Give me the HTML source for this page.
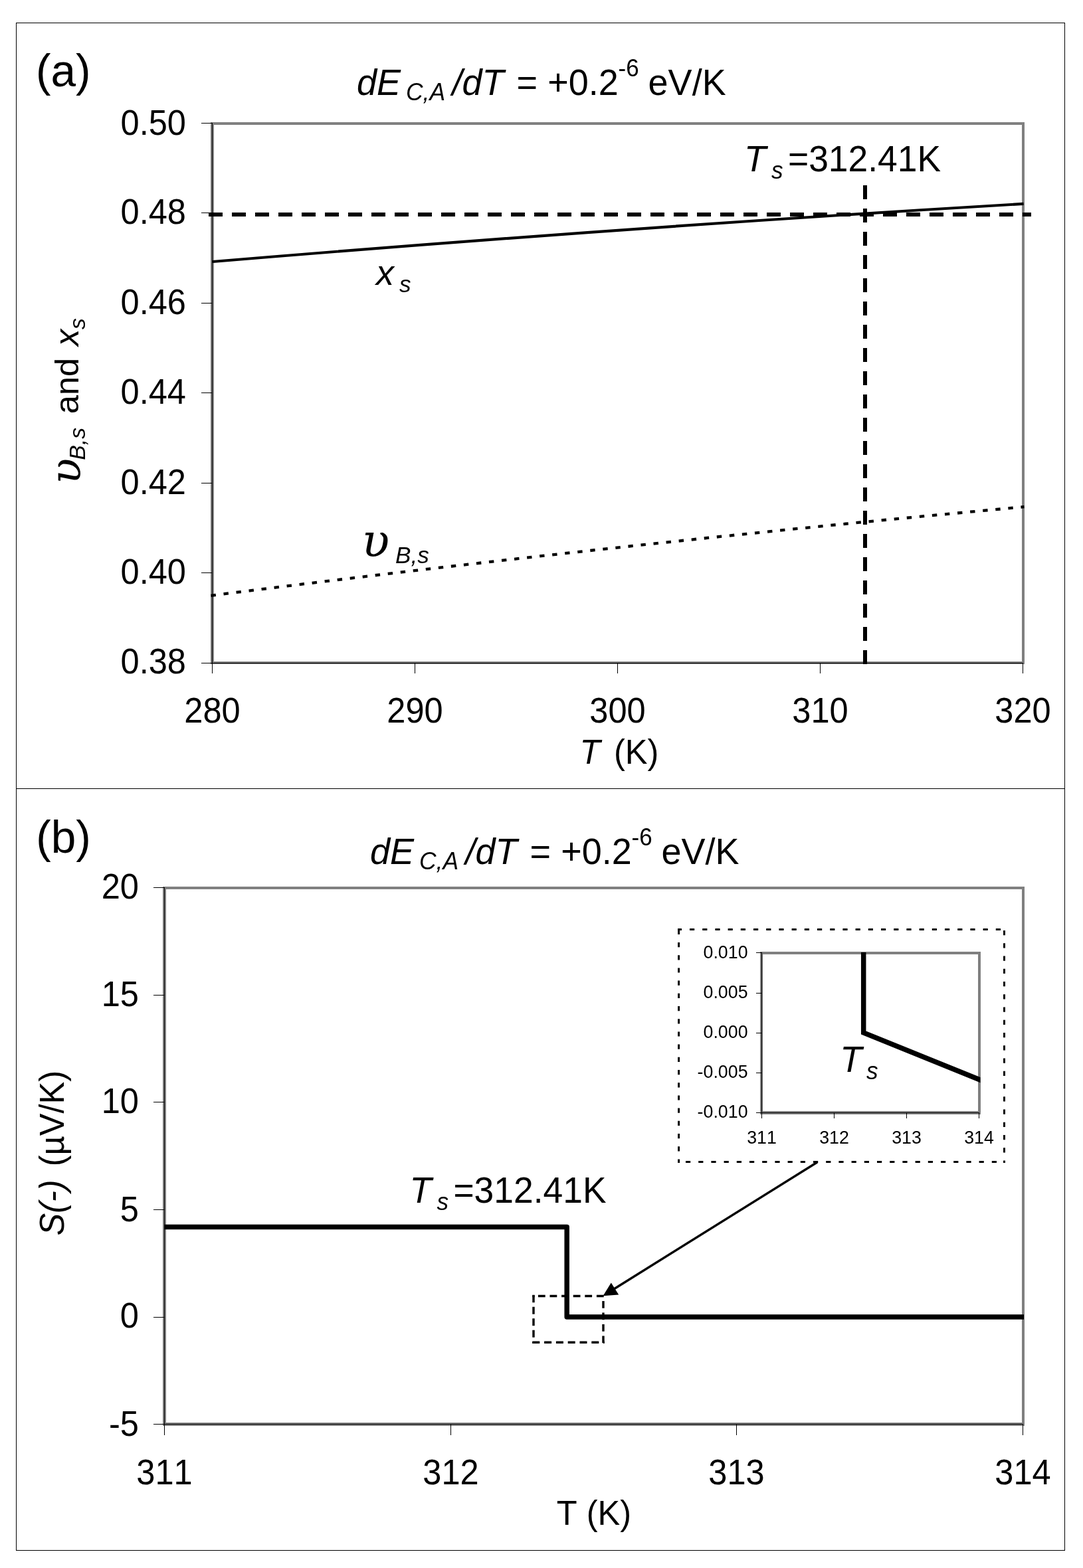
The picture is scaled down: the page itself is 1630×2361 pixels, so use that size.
<!DOCTYPE html>
<html lang="en"><head><meta charset="utf-8"><title>Figure: surface composition and thermopower versus temperature</title>
<style>
html,body{margin:0;padding:0;background:#fff}
body{width:1630px;height:2361px;overflow:hidden}
svg{display:block}
text{font-family:"Liberation Sans", "DejaVu Sans", sans-serif;fill:#000;white-space:pre;font-kerning:none}
.i{font-style:italic}
.u{font-family:"DejaVu Serif", "Liberation Serif", serif;font-style:italic}
</style>
</head><body>
<svg xmlns="http://www.w3.org/2000/svg" width="1630" height="2361" viewBox="0 0 1630 2361">
<rect x="0" y="0" width="1630" height="2361" fill="#fff"/>
<g shape-rendering="crispEdges">
<rect x="24" y="34" width="1579" height="1" fill="#000"/>
<rect x="24" y="2334" width="1579" height="1" fill="#000"/>
<rect x="24" y="34" width="1" height="2301" fill="#000"/>
<rect x="1602" y="34" width="1" height="2301" fill="#000"/>
<rect x="24" y="1187" width="1579" height="1" fill="#000"/>
</g>
<!-- panel (a) -->
<g shape-rendering="crispEdges">
<rect x="317" y="184" width="1225" height="4" fill="#808080"/>
<rect x="317" y="996" width="1225" height="4" fill="#808080"/>
<rect x="317" y="184" width="5" height="816" fill="#808080"/>
<rect x="1538" y="184" width="4" height="816" fill="#808080"/>
<rect x="319" y="185" width="1" height="814" fill="#000"/>
<rect x="319" y="998" width="1221" height="1" fill="#000"/>
<rect x="303" y="185" width="17" height="1" fill="#000"/>
<rect x="303" y="320" width="17" height="1" fill="#000"/>
<rect x="303" y="456" width="17" height="1" fill="#000"/>
<rect x="303" y="591" width="17" height="1" fill="#000"/>
<rect x="303" y="727" width="17" height="1" fill="#000"/>
<rect x="303" y="862" width="17" height="1" fill="#000"/>
<rect x="303" y="998" width="17" height="1" fill="#000"/>
<rect x="319" y="998" width="1" height="16" fill="#000"/>
<rect x="624" y="998" width="1" height="16" fill="#000"/>
<rect x="929" y="998" width="1" height="16" fill="#000"/>
<rect x="1234" y="998" width="1" height="16" fill="#000"/>
<rect x="1539" y="998" width="1" height="16" fill="#000"/>
</g>
<text transform="scale(1 1.045)" font-size="50.6"><tspan x="181.52" y="194.07">0.50</tspan></text>
<text transform="scale(1 1.045)" font-size="50.6"><tspan x="181.52" y="322.68">0.48</tspan></text>
<text transform="scale(1 1.045)" font-size="50.6"><tspan x="181.52" y="452.73">0.46</tspan></text>
<text transform="scale(1 1.045)" font-size="50.6"><tspan x="181.52" y="581.91">0.44</tspan></text>
<text transform="scale(1 1.045)" font-size="50.6"><tspan x="181.52" y="711.96">0.42</tspan></text>
<text transform="scale(1 1.045)" font-size="50.6"><tspan x="181.52" y="841.15">0.40</tspan></text>
<text transform="scale(1 1.045)" font-size="50.6"><tspan x="181.52" y="970.72">0.38</tspan></text>
<text transform="scale(1 1.045)" font-size="50.6"><tspan x="277.29" y="1040.96">280</tspan></text>
<text transform="scale(1 1.045)" font-size="50.6"><tspan x="582.29" y="1040.96">290</tspan></text>
<text transform="scale(1 1.045)" font-size="50.6"><tspan x="887.29" y="1040.96">300</tspan></text>
<text transform="scale(1 1.045)" font-size="50.6"><tspan x="1192.29" y="1040.96">310</tspan></text>
<text transform="scale(1 1.045)" font-size="50.6"><tspan x="1497.29" y="1040.96">320</tspan></text>
<path d="M320,394 Q930.2,343.04 1540.5,306.9" fill="none" stroke="#000" stroke-width="4.2"/>
<path d="M317.5,896.8 Q929.4,818.96 1541.5,763.2" fill="none" stroke="#000" stroke-width="4.3" stroke-dasharray="7.4 11.76"/>
<line x1="314" y1="323" x2="1552" y2="323" stroke="#000" stroke-width="6" stroke-dasharray="21 14" shape-rendering="crispEdges"/>
<line x1="1302" y1="279" x2="1302" y2="1000" stroke="#000" stroke-width="6" stroke-dasharray="21 14" shape-rendering="crispEdges"/>
<text transform="scale(1 1.02)" font-size="67.5"><tspan x="54" y="127.75">(a)</tspan></text>
<text transform="scale(1 1.045)" font-size="54"><tspan x="537" y="136.46" class="i">dE</tspan><tspan x="611" y="144.88" font-size="35.5" class="i">C,A</tspan><tspan x="680.5" y="136.46" class="i">/dT </tspan><tspan x="777.5" y="136.46">= </tspan><tspan x="824.2" y="136.46">+0.2</tspan><tspan x="930.5" y="110.05" font-size="35">-6</tspan><tspan x="960.6" y="136.46"> eV/K</tspan></text>
<text transform="scale(1 1.04)" font-size="50.6"><tspan x="872.4" y="1105.67" class="i">T </tspan><tspan x="924" y="1105.67">(K)</tspan></text>
<text transform="rotate(-90)" font-size="50.6"><tspan x="-729.1" y="121" font-size="64.2" class="u">υ</tspan><tspan x="-692.8" y="127.8" font-size="33.8" class="i">B,s </tspan><tspan x="-623.2" y="118.2">and </tspan><tspan x="-521" y="118.2" class="i">x</tspan><tspan x="-496.1" y="127.8" font-size="33.8" class="i">s</tspan></text>
<text font-size="54"><tspan x="566" y="429" class="i">x</tspan><tspan x="601" y="439.8" font-size="35.2" class="i">s</tspan></text>
<text font-size="54"><tspan x="544.6" y="838" font-size="68.5" class="u">υ</tspan><tspan x="595" y="847.5" font-size="35.2" class="i">B,s</tspan></text>
<text transform="scale(1 1.045)" font-size="54"><tspan x="1120" y="246.99" class="i">T</tspan><tspan x="1161" y="257.22" font-size="35.2" class="i">s</tspan><tspan x="1171.16" y="246.99" font-size="53.4"> =312.41K</tspan></text>
<!-- panel (b) -->
<g shape-rendering="crispEdges">
<rect x="245" y="1335" width="1297" height="4" fill="#808080"/>
<rect x="245" y="2142" width="1297" height="5" fill="#808080"/>
<rect x="245" y="1335" width="5" height="812" fill="#808080"/>
<rect x="1538" y="1335" width="4" height="812" fill="#808080"/>
<rect x="247" y="1336" width="1" height="809" fill="#000"/>
<rect x="247" y="2144" width="1293" height="1" fill="#000"/>
<rect x="231" y="1336" width="17" height="1" fill="#000"/>
<rect x="231" y="1498" width="17" height="1" fill="#000"/>
<rect x="231" y="1659" width="17" height="1" fill="#000"/>
<rect x="231" y="1821" width="17" height="1" fill="#000"/>
<rect x="231" y="1983" width="17" height="1" fill="#000"/>
<rect x="231" y="2144" width="17" height="1" fill="#000"/>
<rect x="247" y="2144" width="1" height="17" fill="#000"/>
<rect x="678" y="2144" width="1" height="17" fill="#000"/>
<rect x="1108" y="2144" width="1" height="17" fill="#000"/>
<rect x="1539" y="2144" width="1" height="17" fill="#000"/>
</g>
<text transform="scale(1 1.045)" font-size="50.6"><tspan x="152.72" y="1295.22">20</tspan></text>
<text transform="scale(1 1.045)" font-size="50.6"><tspan x="152.72" y="1450.05">15</tspan></text>
<text transform="scale(1 1.045)" font-size="50.6"><tspan x="152.72" y="1603.92">10</tspan></text>
<text transform="scale(1 1.045)" font-size="50.6"><tspan x="180.86" y="1759.43">5</tspan></text>
<text transform="scale(1 1.045)" font-size="50.6"><tspan x="180.86" y="1912.92">0</tspan></text>
<text transform="scale(1 1.045)" font-size="50.6"><tspan x="164.01" y="2068.52">-5</tspan></text>
<text transform="scale(1 1.045)" font-size="50.6"><tspan x="205.29" y="2138.56">311</tspan></text>
<text transform="scale(1 1.045)" font-size="50.6"><tspan x="636.29" y="2138.56">312</tspan></text>
<text transform="scale(1 1.045)" font-size="50.6"><tspan x="1066.29" y="2138.56">313</tspan></text>
<text transform="scale(1 1.045)" font-size="50.6"><tspan x="1497.29" y="2138.56">314</tspan></text>
<text transform="scale(1 1.02)" font-size="67.5"><tspan x="54.2" y="1258.82">(b)</tspan></text>
<text transform="scale(1 1.045)" font-size="54"><tspan x="557" y="1244.59" class="i">dE</tspan><tspan x="631" y="1253.01" font-size="35.5" class="i">C,A</tspan><tspan x="700.5" y="1244.59" class="i">/dT </tspan><tspan x="797.5" y="1244.59">= </tspan><tspan x="844.2" y="1244.59">+0.2</tspan><tspan x="950.5" y="1218.18" font-size="35">-6</tspan><tspan x="980.6" y="1244.59"> eV/K</tspan></text>
<text transform="scale(1 1.04)" font-size="50.6"><tspan x="837.8" y="2207.5">T (K)</tspan></text>
<text transform="rotate(-90) scale(1 1.03)" font-size="50.6"><tspan x="-1860.6" y="93.4" class="i">S(-) </tspan><tspan x="-1756.3" y="93.4">(µV/K)</tspan></text>
<polyline points="247,1847.5 853.2,1847.5 853.2,1983 1541,1983" fill="none" stroke="#000" stroke-width="7.5" stroke-linejoin="round"/>
<text transform="scale(1 1.045)" font-size="54"><tspan x="616.4" y="1732.92" class="i">T</tspan><tspan x="657.4" y="1743.16" font-size="35.2" class="i">s</tspan><tspan x="667.56" y="1732.92" font-size="53.4"> =312.41K</tspan></text>
<g stroke="#000" stroke-width="3.4" fill="none">
<line x1="803" y1="1950.3" x2="803" y2="2023" stroke-dasharray="10.9 6.6"/>
<line x1="801.3" y1="2021.3" x2="909.7" y2="2021.3" stroke-dasharray="11 6.8"/>
<line x1="908" y1="1958.9" x2="908" y2="2023" stroke-dasharray="10.8 6.7"/>
<line x1="809.9" y1="1951.5" x2="909.7" y2="1951.5" stroke-dasharray="10.8 6.8"/>
<line x1="801.3" y1="1951.5" x2="804.7" y2="1951.5"/>
</g>
<line x1="1230" y1="1750" x2="922" y2="1942.3" stroke="#000" stroke-width="3.4"/>
<polygon points="907.6,1951.2 919.8,1931.6 931.2,1949.6" fill="#000"/>
<g stroke="#000" stroke-width="3" stroke-dasharray="7.2 12" fill="none">
<line x1="1020.1" y1="1399.5" x2="1508" y2="1399.5" stroke-dashoffset="1.3"/>
<line x1="1020.1" y1="1749.5" x2="1513" y2="1749.5" stroke-dashoffset="7.3"/>
<line x1="1021.6" y1="1398.1" x2="1021.6" y2="1751" stroke-dashoffset="-1.7"/>
<line x1="1511.5" y1="1401" x2="1511.5" y2="1751" stroke-dasharray="7.2 12.05"/>
</g>
<g shape-rendering="crispEdges">
<rect x="1144" y="1433" width="332" height="4" fill="#808080"/>
<rect x="1144" y="1673" width="332" height="5" fill="#808080"/>
<rect x="1144" y="1433" width="4" height="245" fill="#808080"/>
<rect x="1472" y="1433" width="4" height="245" fill="#808080"/>
<rect x="1146" y="1434" width="1" height="242" fill="#000"/>
<rect x="1146" y="1675" width="328" height="1" fill="#000"/>
<rect x="1138" y="1434" width="9" height="1" fill="#000"/>
<rect x="1138" y="1495" width="9" height="1" fill="#000"/>
<rect x="1138" y="1555" width="9" height="1" fill="#000"/>
<rect x="1138" y="1615" width="9" height="1" fill="#000"/>
<rect x="1138" y="1675" width="9" height="1" fill="#000"/>
<rect x="1146" y="1675" width="1" height="9" fill="#000"/>
<rect x="1255" y="1675" width="1" height="9" fill="#000"/>
<rect x="1364" y="1675" width="1" height="9" fill="#000"/>
<rect x="1473" y="1675" width="1" height="9" fill="#000"/>
</g>
<text transform="scale(1 1.045)" font-size="26.8"><tspan x="1058.53" y="1381.05">0.010</tspan></text>
<text transform="scale(1 1.045)" font-size="26.8"><tspan x="1058.53" y="1438.56">0.005</tspan></text>
<text transform="scale(1 1.045)" font-size="26.8"><tspan x="1058.53" y="1495.98">0.000</tspan></text>
<text transform="scale(1 1.045)" font-size="26.8"><tspan x="1049.61" y="1553.21">-0.005</tspan></text>
<text transform="scale(1 1.045)" font-size="26.8"><tspan x="1049.61" y="1610.53">-0.010</tspan></text>
<text transform="scale(1 1.045)" font-size="26.8"><tspan x="1124.14" y="1647.94">311</tspan></text>
<text transform="scale(1 1.045)" font-size="26.8"><tspan x="1233.14" y="1647.94">312</tspan></text>
<text transform="scale(1 1.045)" font-size="26.8"><tspan x="1342.14" y="1647.94">313</tspan></text>
<text transform="scale(1 1.045)" font-size="26.8"><tspan x="1451.14" y="1647.94">314</tspan></text>
<clipPath id="ic"><rect x="1146" y="1434" width="329.5" height="243"/></clipPath>
<polyline clip-path="url(#ic)" points="1299.7,1430 1299.7,1555 1480,1628" fill="none" stroke="#000" stroke-width="7.5" stroke-linejoin="miter"/>
<text transform="scale(1 1.045)" font-size="54"><tspan x="1264.2" y="1544.4" class="i">T</tspan><tspan x="1304" y="1555.02" font-size="35.2" class="i">s</tspan></text>
</svg>
</body></html>
